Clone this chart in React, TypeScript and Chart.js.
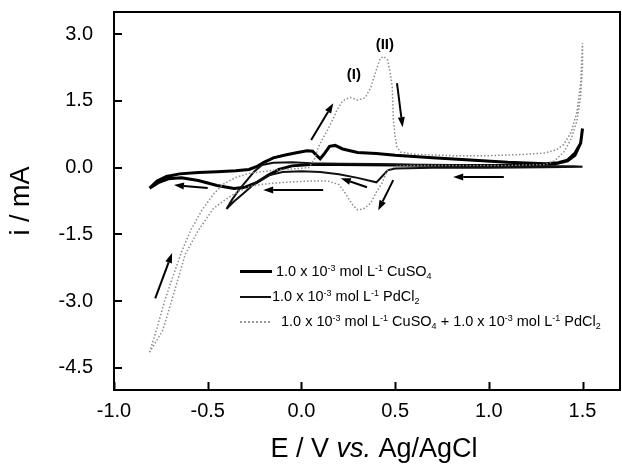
import React, { useEffect, useRef } from "react";
import { Chart, registerables } from "chart.js";

Chart.register(...registerables);

// ---------- axis ticks ----------
const X_TICKS = [-1.0, -0.5, 0.0, 0.5, 1.0, 1.5];
const Y_TICKS = [-4.5, -3.0, -1.5, 0.0, 1.5, 3.0];

// ---------- 1.0e-3 mol/L CuSO4 (E in V, i in mA) ----------
const cuE = [
  -0.81, -0.77, -0.72, -0.65, -0.55, -0.45, -0.35, -0.28, -0.24, -0.2, -0.15, -0.08, -0.02, 0.03, 0.06, 0.08, 0.1, 0.12,
  0.15, 0.18, 0.22, 0.3, 0.4, 0.5, 0.7, 0.9, 1.1, 1.3, 1.37, 1.42, 1.46, 1.49, 1.5,
  1.49, 1.46, 1.42, 1.35, 1.1, 0.8, 0.5, 0.2, 0.05, -0.05, -0.12, -0.18, -0.24, -0.3, -0.36, -0.45, -0.55, -0.64,
  -0.71, -0.76, -0.81,
];
const cuI = [
  -0.46, -0.3, -0.2, -0.14, -0.11, -0.09, -0.07, -0.04, 0.02, 0.12, 0.22, 0.29, 0.34, 0.38, 0.37, 0.28, 0.2, 0.3,
  0.48, 0.5, 0.42, 0.34, 0.32, 0.28, 0.22, 0.17, 0.12, 0.09, 0.11, 0.17, 0.33, 0.55, 0.88,
  0.55, 0.28, 0.15, 0.08, 0.05, 0.05, 0.06, 0.07, 0.07, 0.04, -0.04, -0.18, -0.34, -0.44, -0.47, -0.4, -0.29, -0.23,
  -0.25, -0.33, -0.46,
];

// ---------- 1.0e-3 mol/L PdCl2 ----------
const pdE = [
  -0.4, -0.37, -0.33, -0.29, -0.25, -0.21, -0.15, -0.05, 0.05, 0.2, 0.4, 0.6, 0.9, 1.2, 1.35, 1.45, 1.5,
  1.3, 1.0, 0.7, 0.5, 0.46, 0.43, 0.4, 0.37, 0.3, 0.2, 0.1, 0.0, -0.1, -0.18, -0.25, -0.31, -0.36, -0.4,
];
const pdI = [
  -0.93, -0.72, -0.48, -0.28, -0.08, 0.06, 0.11, 0.12, 0.1, 0.09, 0.08, 0.06, 0.04, 0.03, 0.03, 0.03, 0.02,
  0.01, 0.0, 0.0, -0.02, -0.06, -0.2, -0.33, -0.3, -0.23, -0.15, -0.1, -0.08, -0.1, -0.18, -0.36, -0.58, -0.76, -0.93,
];

// ---------- CuSO4 + PdCl2 ----------
const mixE = [
  -0.81, -0.77, -0.73, -0.69, -0.64, -0.59, -0.53, -0.47, -0.42, -0.35, -0.27, -0.15, -0.05, 0.04, 0.07, 0.09, 0.12,
  0.14, 0.17, 0.19, 0.22, 0.26, 0.3, 0.34, 0.37, 0.4, 0.42, 0.44, 0.46, 0.475, 0.485, 0.49, 0.5, 0.51, 0.53, 0.6,
  0.8, 1.0, 1.2, 1.3, 1.36, 1.4, 1.44, 1.47, 1.49, 1.5,
  1.5, 1.49, 1.47, 1.44, 1.4, 1.35, 1.3, 1.1, 0.8, 0.6, 0.5, 0.46, 0.43, 0.4, 0.37, 0.33, 0.3, 0.27, 0.23, 0.2,
  0.14, 0.05, -0.05, -0.15, -0.22, -0.27, -0.33, -0.4, -0.47, -0.55, -0.62, -0.66, -0.7, -0.74, -0.81,
];
const mixI = [
  -4.15, -3.6, -3.0, -2.5, -1.9, -1.4, -0.95, -0.6, -0.38, -0.22, -0.12, -0.06, -0.03, 0.0, 0.2, 0.46, 0.7,
  0.85, 1.1, 1.3, 1.5, 1.58, 1.52, 1.57, 1.8, 2.2, 2.45, 2.5, 2.42, 2.1, 1.8, 1.1, 0.7, 0.46, 0.35, 0.3,
  0.27, 0.27, 0.3, 0.33, 0.4, 0.52, 0.8, 1.25, 1.9, 2.8,
  2.3, 1.6, 1.05, 0.65, 0.35, 0.15, 0.07, 0.05, 0.05, 0.05, 0.03, -0.05, -0.35, -0.55, -0.8, -0.93, -0.95, -0.82,
  -0.55, -0.38, -0.3, -0.3, -0.32, -0.35, -0.38, -0.42, -0.52, -0.7, -0.92, -1.41, -1.95, -2.53, -3.1, -3.66, -4.15,
];

// ---------- scan-direction arrows: [E from, i from, E to, i to] ----------
const ARROWS: number[][] = [
  [-0.78, -2.94, -0.69, -1.92],
  [0.052, 0.62, 0.17, 1.45],
  [0.51, 1.9, 0.54, 0.91],
  [1.08, -0.21, 0.81, -0.21],
  [0.116, -0.5, -0.204, -0.5],
  [-0.5, -0.46, -0.68, -0.39],
  [0.35, -0.44, 0.21, -0.24],
  [0.49, -0.28, 0.41, -0.96],
];

// ---------- peak labels ----------
const PEAK_TEXT = ["(I)", "(II)"];
const PEAK_E = [0.28, 0.445];
const PEAK_I = [2.08, 2.75];

const FONT = '"Liberation Sans", Arial, Helvetica, sans-serif';

const toPts = (xs: number[], ys: number[]) => xs.map((x, k) => ({ x, y: ys[k] }));

const decor = {
  id: "decor",
  afterDraw(chart: any) {
    const { ctx, chartArea: a, scales } = chart;
    const xs = scales.x;
    const ys = scales.y;
    ctx.save();
    ctx.strokeStyle = "#000";
    ctx.fillStyle = "#000";
    ctx.lineWidth = 2;
    ctx.strokeRect(a.left, a.top, a.right - a.left, a.bottom - a.top);
    ctx.beginPath();
    for (const v of X_TICKS) {
      const px = Math.round(xs.getPixelForValue(v)) + 0.5;
      ctx.moveTo(px, a.bottom);
      ctx.lineTo(px, a.bottom - 8);
    }
    for (const v of Y_TICKS) {
      const py = Math.round(ys.getPixelForValue(v));
      ctx.moveTo(a.left, py);
      ctx.lineTo(a.left + 8, py);
    }
    ctx.stroke();

    // arrows
    for (const [e1, i1, e2, i2] of ARROWS) {
      const x1 = xs.getPixelForValue(e1);
      const y1 = ys.getPixelForValue(i1);
      const x2 = xs.getPixelForValue(e2);
      const y2 = ys.getPixelForValue(i2);
      const ang = Math.atan2(y2 - y1, x2 - x1);
      const hl = 10;
      const hw = 3.5;
      const bx = x2 - hl * Math.cos(ang);
      const by = y2 - hl * Math.sin(ang);
      ctx.lineWidth = 2;
      ctx.beginPath();
      ctx.moveTo(x1, y1);
      ctx.lineTo(bx, by);
      ctx.stroke();
      ctx.beginPath();
      ctx.moveTo(x2, y2);
      ctx.lineTo(bx + hw * Math.sin(ang), by - hw * Math.cos(ang));
      ctx.lineTo(bx - hw * Math.sin(ang), by + hw * Math.cos(ang));
      ctx.closePath();
      ctx.fill();
    }

    // peak labels
    ctx.font = `bold 15px ${FONT}`;
    ctx.textAlign = "center";
    ctx.textBaseline = "middle";
    PEAK_TEXT.forEach((t, k) => {
      ctx.fillText(t, xs.getPixelForValue(PEAK_E[k]), ys.getPixelForValue(PEAK_I[k]));
    });

    // x title with italic "vs."
    const p1 = "E / V ";
    const p2 = "vs.";
    const p3 = " Ag/AgCl";
    const normal = `27px ${FONT}`;
    const italic = `italic 27px ${FONT}`;
    ctx.font = normal;
    const w1 = ctx.measureText(p1).width;
    const w3 = ctx.measureText(p3).width;
    ctx.font = italic;
    const w2 = ctx.measureText(p2).width;
    const total = w1 + w2 + w3;
    let x0 = (a.left + a.right) / 2 + 7 - total / 2;
    const yb = 457;
    ctx.textAlign = "left";
    ctx.textBaseline = "alphabetic";
    ctx.font = normal;
    ctx.fillText(p1, x0, yb);
    x0 += w1;
    ctx.font = italic;
    ctx.fillText(p2, x0, yb);
    x0 += w2;
    ctx.font = normal;
    ctx.fillText(p3, x0, yb);

    // y title
    ctx.save();
    ctx.translate(22, (a.top + a.bottom) / 2);
    ctx.rotate(-Math.PI / 2);
    ctx.font = normal;
    ctx.textAlign = "center";
    ctx.textBaseline = "middle";
    ctx.fillText("i / mA", 0, 0);
    ctx.restore();

    ctx.restore();
  },
};

const legendText: React.CSSProperties = {
  position: "absolute",
  font: `14.5px ${FONT}`,
  color: "#000",
  whiteSpace: "nowrap",
  lineHeight: "16px",
};
const supStyle: React.CSSProperties = { fontSize: "0.62em", verticalAlign: "0.6em", lineHeight: 0 };
const subStyle: React.CSSProperties = { fontSize: "0.62em", verticalAlign: "-0.35em", lineHeight: 0 };

const Conc = () => (
  <>
    1.0 x 10<span style={supStyle}>-3</span> mol L<span style={supStyle}>-1</span>
  </>
);

export default function App() {
  const ref = useRef<HTMLCanvasElement | null>(null);

  useEffect(() => {
    if (!ref.current) return;
    const chart = new Chart(ref.current, {
      type: "scatter",
      data: {
        datasets: [
          {
            label: "CuSO4",
            data: toPts(cuE, cuI),
            showLine: true,
            borderColor: "#000",
            borderWidth: 3,
            pointRadius: 0,
            tension: 0,
            order: 2,
          },
          {
            label: "PdCl2",
            data: toPts(pdE, pdI),
            showLine: true,
            borderColor: "#111",
            borderWidth: 2,
            pointRadius: 0,
            tension: 0,
            order: 1,
          },
          {
            label: "CuSO4 + PdCl2",
            data: toPts(mixE, mixI),
            showLine: true,
            borderColor: "#8c8c8c",
            borderWidth: 1.5,
            borderDash: [1.5, 2],
            pointRadius: 0,
            tension: 0,
            order: 0,
          },
        ],
      },
      options: {
        animation: false,
        responsive: false,
        layout: { padding: { left: 0, right: 2, top: 12, bottom: 0 } },
        plugins: { legend: { display: false }, tooltip: { enabled: false } },
        scales: {
          x: {
            type: "linear",
            min: -1.0,
            max: 1.7,
            afterBuildTicks: (s: any) => {
              s.ticks = X_TICKS.map((v) => ({ value: v }));
            },
            afterFit: (s: any) => {
              s.height = 78;
              s.paddingLeft = 0;
              s.paddingRight = 0;
            },
            ticks: {
              callback: (v: any) => Number(v).toFixed(1),
              font: { family: FONT, size: 20 },
              color: "#000",
              padding: 9,
              maxRotation: 0,
            },
            grid: { display: false, drawTicks: false },
            border: { display: false },
          },
          y: {
            type: "linear",
            min: -5.0,
            max: 3.5,
            afterBuildTicks: (s: any) => {
              s.ticks = Y_TICKS.map((v) => ({ value: v }));
            },
            afterFit: (s: any) => {
              s.width = 114;
              s.paddingTop = 0;
              s.paddingBottom = 0;
            },
            ticks: {
              callback: (v: any) => Number(v).toFixed(1),
              font: { family: FONT, size: 20 },
              color: "#000",
              padding: 21,
            },
            grid: { display: false, drawTicks: false },
            border: { display: false },
          },
        },
      },
      plugins: [decor],
    });
    return () => chart.destroy();
  }, []);

  return (
    <div style={{ position: "absolute", left: 0, top: 0, width: 622, height: 468, background: "#fff" }}>
      <canvas ref={ref} width={622} height={468} style={{ width: 622, height: 468, display: "block" }} />
      {/* legend */}
      <div style={{ position: "absolute", left: 240, top: 270, width: 32, height: 3, background: "#000" }} />
      <div style={{ ...legendText, left: 276, top: 263 }}>
        <Conc /> CuSO<span style={subStyle}>4</span>
      </div>
      <div style={{ position: "absolute", left: 240, top: 296, width: 31, height: 2, background: "#111" }} />
      <div style={{ ...legendText, left: 272, top: 288 }}>
        <Conc /> PdCl<span style={subStyle}>2</span>
      </div>
      <div
        style={{
          position: "absolute",
          left: 240,
          top: 321,
          width: 30,
          height: 0,
          borderTop: "2px dotted #9a9a9a",
        }}
      />
      <div style={{ ...legendText, left: 281, top: 313 }}>
        <Conc /> CuSO<span style={subStyle}>4</span> + <Conc /> PdCl<span style={subStyle}>2</span>
      </div>
    </div>
  );
}
